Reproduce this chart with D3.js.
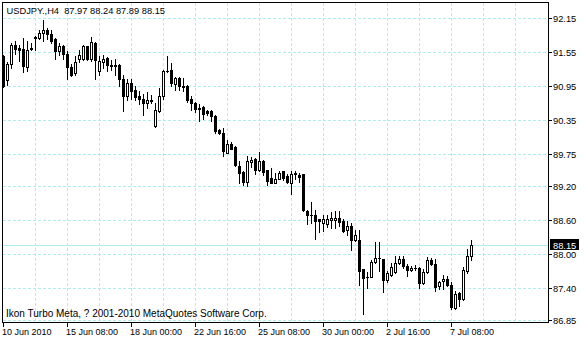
<!DOCTYPE html>
<html>
<head>
<meta charset="utf-8">
<script src="https://cdn.jsdelivr.net/npm/d3@7"></script>
<style>
body { margin: 0; background: #fff; }
text { font-family: "Liberation Sans", Arial, sans-serif; fill: #000; }
</style>
</head>
<body>
<svg id="chart" width="586" height="340"></svg>
<script>
const symbol = "USDJPY.,H4";
const copyright = "Ikon Turbo Meta, ? 2001-2010 MetaQuotes Software Corp.";

// H4 bars, oldest first
const opens = [91.48,91.05,91.34,91.68,91.62,91.60,91.29,91.62,91.82,91.79,91.88,91.94,91.86,91.78,91.56,91.65,91.51,91.28,91.18,91.42,
  91.42,91.65,91.42,91.70,91.22,91.37,91.45,91.32,91.31,91.32,91.08,90.77,91.01,90.88,90.77,90.72,90.66,90.69,90.25,90.51,
  90.77,91.21,91.24,90.99,91.10,90.95,90.96,90.73,90.66,90.57,90.58,90.51,90.52,90.43,90.18,90.13,89.78,89.94,89.88,89.55,
  89.44,89.26,89.61,89.67,89.48,89.63,89.47,89.34,89.25,89.32,89.45,89.37,89.25,89.41,89.39,89.40,88.76,88.69,88.69,88.61,
  88.54,88.52,88.59,88.59,88.64,88.58,88.42,88.50,88.24,88.25,87.73,87.60,87.60,87.86,87.93,87.92,87.54,87.64,87.68,87.85,
  87.92,87.79,87.72,87.76,87.76,87.49,87.69,87.90,87.83,87.43,87.52,87.57,87.45,87.05,87.31,87.21,87.70,87.97];
const highs = [91.49,91.38,91.71,91.74,91.68,91.79,91.75,91.70,91.83,91.94,92.12,91.97,91.94,91.79,91.70,91.68,91.56,91.33,91.48,91.58,
  91.68,91.66,91.81,91.73,91.48,91.49,91.46,91.41,91.42,91.33,91.14,91.07,91.07,90.95,90.86,90.81,90.84,90.80,90.65,90.91,
  91.24,91.48,91.36,91.11,91.11,91.10,90.97,90.77,90.67,90.63,90.60,90.53,90.53,90.44,90.20,90.22,90.00,89.96,89.89,89.63,
  89.45,89.72,89.71,89.69,89.79,89.65,89.48,89.51,89.43,89.45,89.46,89.41,89.45,89.45,89.42,89.40,88.78,88.92,88.78,88.62,
  88.68,88.69,88.73,88.75,88.75,88.61,88.58,88.55,88.42,88.42,87.74,87.69,87.90,88.21,88.22,87.92,87.70,87.85,87.97,87.96,
  87.96,87.82,87.79,87.80,87.78,87.73,87.94,87.93,87.92,87.52,87.64,87.61,87.50,87.35,87.33,87.77,88.08,88.24];
const lows = [90.94,90.97,91.27,91.52,91.39,91.20,91.22,91.58,91.58,91.77,91.75,91.77,91.71,91.42,91.49,91.43,91.08,91.12,91.15,91.38,
  91.40,91.40,91.39,91.07,91.15,91.26,91.22,91.24,91.15,90.96,90.51,90.71,90.73,90.71,90.64,90.44,90.56,90.65,90.24,90.49,
  90.73,91.19,90.95,90.88,90.88,90.86,90.67,90.53,90.49,90.33,90.38,90.45,90.33,90.13,90.10,89.72,89.77,89.84,89.54,89.25,
  89.22,89.20,89.53,89.41,89.45,89.38,89.22,89.24,89.24,89.31,89.30,89.25,89.05,89.31,89.27,88.76,88.53,88.55,88.27,88.39,
  88.40,88.47,88.46,88.45,88.49,88.39,88.34,88.07,88.23,87.45,86.95,87.41,87.59,87.85,87.70,87.33,87.51,87.61,87.66,87.82,
  87.76,87.62,87.70,87.72,87.41,87.48,87.67,87.80,87.35,87.38,87.38,87.43,87.03,87.03,87.08,87.20,87.66,87.89];
const closes = [90.96,91.34,91.68,91.61,91.59,91.30,91.59,91.60,91.79,91.89,91.93,91.87,91.75,91.56,91.65,91.51,91.28,91.15,91.38,91.49,
  91.65,91.43,91.72,91.41,91.39,91.43,91.32,91.31,91.32,91.07,90.77,91.01,90.87,90.75,90.72,90.66,90.70,90.71,90.53,90.78,
  91.22,91.22,91.00,91.10,90.95,90.94,90.70,90.66,90.55,90.54,90.46,90.47,90.43,90.16,90.13,89.81,89.93,89.85,89.56,89.42,
  89.26,89.63,89.66,89.47,89.63,89.44,89.29,89.25,89.32,89.43,89.33,89.26,89.41,89.42,89.35,88.77,88.68,88.68,88.58,88.58,
  88.62,88.62,88.64,88.64,88.57,88.40,88.50,88.24,88.34,87.70,87.58,87.59,87.86,87.93,87.93,87.54,87.66,87.78,87.85,87.92,
  87.79,87.72,87.76,87.76,87.49,87.69,87.89,87.82,87.42,87.50,87.56,87.45,87.07,87.29,87.21,87.72,87.97,88.15];

const priceTicks = [92.15, 91.55, 90.95, 90.35, 89.75, 89.20, 88.60, 88.00, 87.40, 86.85];
const timeLabels = ["10 Jun 2010", "15 Jun 08:00", "18 Jun 00:00", "22 Jun 16:00", "25 Jun 08:00", "30 Jun 00:00", "2 Jul 16:00", "7 Jul 08:00"];
const timeLabelBars = [0, 16, 32, 48, 64, 80, 96, 112];

const bars = opens.map((o, i) => ({ i: i, o: o, h: highs[i], l: lows[i], c: closes[i] }));
const last = bars[bars.length - 1];

const svg = d3.select("#chart");
const frame = { left: 2.5, top: 2.5, right: 548.5, bottom: 322.5 };
const gridColor = "#afeeee";

// bar index -> pixel column, 4px per bar
const x = d3.scaleLinear().domain([0, 136]).range([3, 547]);
const y = d3.scaleLinear().domain([86.85, 92.15]).range([320, 18.3]);
const py = v => Math.floor(y(v));

svg.append("rect").attr("width", 586).attr("height", 340).attr("fill", "#fff");

const grid = svg.append("g").attr("stroke", gridColor).attr("stroke-dasharray", "3,2").attr("shape-rendering", "crispEdges");
grid.selectAll(".vgrid")
  .data(d3.range(8, 136, 8))
  .enter().append("line")
  .attr("x1", d => x(d) + 0.5).attr("x2", d => x(d) + 0.5)
  .attr("y1", 3).attr("y2", 322);
grid.selectAll(".hgrid")
  .data(priceTicks)
  .enter().append("line")
  .attr("x1", 3).attr("x2", 548)
  .attr("y1", d => py(d) + 0.5).attr("y2", d => py(d) + 0.5);

// bid line
svg.append("line")
  .attr("x1", 3).attr("x2", 548)
  .attr("y1", py(last.c) + 0.5).attr("y2", py(last.c) + 0.5)
  .attr("stroke", gridColor).attr("shape-rendering", "crispEdges");

// candles
const candles = svg.append("g").attr("shape-rendering", "crispEdges");
const candle = candles.selectAll(".candle")
  .data(bars)
  .enter().append("g")
  .attr("class", "candle");

candle.append("line")
  .attr("x1", d => x(d.i) + 0.5).attr("x2", d => x(d.i) + 0.5)
  .attr("y1", d => py(d.h)).attr("y2", d => py(d.l) + 1)
  .attr("stroke", "#000");

candle.each(function(d) {
  const g = d3.select(this);
  const top = py(Math.max(d.o, d.c));
  const bot = py(Math.min(d.o, d.c));
  const cx = x(d.i);
  if (d.c < d.o || bot - top < 1) {
    g.append("rect")
      .attr("x", cx - 1).attr("y", top)
      .attr("width", 3).attr("height", Math.max(1, bot - top + 1))
      .attr("fill", "#000");
  } else {
    g.append("rect")
      .attr("x", cx - 0.5).attr("y", top + 0.5)
      .attr("width", 2).attr("height", bot - top)
      .attr("fill", "#fff").attr("stroke", "#000");
  }
});

// frame
svg.append("rect")
  .attr("x", frame.left).attr("y", frame.top)
  .attr("width", frame.right - frame.left).attr("height", frame.bottom - frame.top)
  .attr("fill", "none").attr("stroke", "#000").attr("shape-rendering", "crispEdges");

// price axis
const yAxis = svg.append("g");
yAxis.selectAll(".ytick")
  .data(priceTicks)
  .enter().append("line")
  .attr("x1", 548).attr("x2", 552)
  .attr("y1", d => py(d) + 0.5).attr("y2", d => py(d) + 0.5)
  .attr("stroke", "#000").attr("shape-rendering", "crispEdges");
yAxis.selectAll(".ylabel")
  .data(priceTicks)
  .enter().append("text")
  .attr("x", 553).attr("y", d => py(d) + 3.5)
  .attr("font-size", "9.3px")
  .text(d => d.toFixed(2));

// current price box
svg.append("rect")
  .attr("x", 550).attr("y", py(last.c) - 6)
  .attr("width", 29).attr("height", 11)
  .attr("fill", "#000");
svg.append("text")
  .attr("x", 553).attr("y", py(last.c) + 3.5)
  .attr("font-size", "9.3px")
  .style("fill", "#fff")
  .text(last.c.toFixed(2));

// time axis
const xAxis = svg.append("g");
xAxis.selectAll(".xtick")
  .data(timeLabelBars)
  .enter().append("line")
  .attr("x1", d => x(d) + 0.5).attr("x2", d => x(d) + 0.5)
  .attr("y1", 323).attr("y2", 327)
  .attr("stroke", "#000").attr("shape-rendering", "crispEdges");
xAxis.selectAll(".xlabel")
  .data(timeLabelBars)
  .enter().append("text")
  .attr("x", d => x(d) - 1).attr("y", 335)
  .attr("font-size", "9px")
  .text((d, k) => timeLabels[k]);

// title and footer
svg.append("text")
  .attr("x", 6.5).attr("y", 14)
  .attr("font-size", "9.3px")
  .attr("xml:space", "preserve")
  .text(symbol + "  " + [last.o, last.h, last.l, last.c].map(v => v.toFixed(2)).join(" "));

svg.append("text")
  .attr("x", 6).attr("y", 316.5)
  .attr("font-size", "10px")
  .text(copyright);
</script>
</body>
</html>
